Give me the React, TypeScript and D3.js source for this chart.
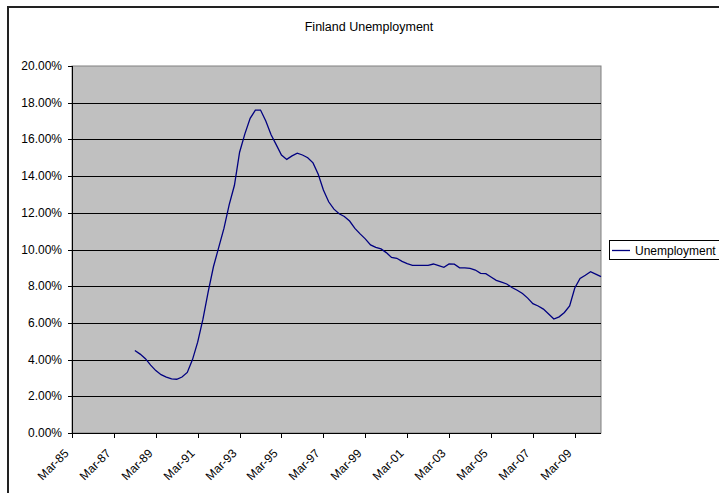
import React from "react";
import * as d3 from "d3";

// Quarterly unemployment rate (%), Mar-88 .. Jun-10
const firstQuarter = { year: 1988, month: 2 };
const unemployment = [
  4.5, 4.3, 4.05, 3.7,
  3.4, 3.18, 3.05, 2.95,
  2.93, 3.05, 3.3, 4.0,
  4.95, 6.2, 7.7, 9.06,
  10.1, 11.15, 12.45, 13.5,
  15.3, 16.3, 17.15, 17.6,
  17.6, 17.0, 16.25, 15.7,
  15.15, 14.91, 15.1, 15.25,
  15.15, 15.0, 14.72, 14.1,
  13.24, 12.6, 12.2, 11.95,
  11.8, 11.55, 11.15, 10.85,
  10.58, 10.25, 10.12, 10.03,
  9.83, 9.57, 9.52, 9.35,
  9.23, 9.14, 9.14, 9.14,
  9.14, 9.21, 9.12, 9.03,
  9.21, 9.2, 9.0, 9.0,
  8.97, 8.88, 8.7, 8.68,
  8.5, 8.32, 8.22, 8.12,
  7.93, 7.78, 7.6, 7.35,
  7.05, 6.92, 6.75, 6.48,
  6.21, 6.33, 6.57, 6.92,
  7.9, 8.42, 8.6, 8.79,
  8.66, 8.52,
];
const xTickYears = [1985, 1987, 1989, 1991, 1993, 1995, 1997, 1999, 2001, 2003, 2005, 2007, 2009];
const yTicks = [0, 0.02, 0.04, 0.06, 0.08, 0.1, 0.12, 0.14, 0.16, 0.18, 0.2];
const seriesName = "Unemployment";
const title = "Finland Unemployment";

const W = 719;
const H = 493;
const plot = { left: 72, right: 601, top: 66, bottom: 433 };

export default function App() {
  const points = unemployment.map((v, i) => ({
    date: new Date(firstQuarter.year, firstQuarter.month + 3 * i, 1),
    value: v / 100,
  }));
  const x = d3
    .scaleTime()
    .domain([new Date(1985, 2, 1), points[points.length - 1].date])
    .range([plot.left, plot.right]);
  const y = d3.scaleLinear().domain([0, 0.2]).range([plot.bottom, plot.top]);
  const line = d3
    .line<{ date: Date; value: number }>()
    .x((d) => x(d.date))
    .y((d) => y(d.value));
  const fmtY = d3.format(".2%");
  const fmtX = d3.timeFormat("%b-%y");
  const xTicks = xTickYears.map((yr) => new Date(yr, 2, 1));
  const font = "Liberation Sans, Arial, sans-serif";

  return (
    <svg
      width={W}
      height={H}
      style={{ position: "absolute", left: 0, top: 0, background: "#fff" }}
      fontFamily={font}
    >
      <rect x={0} y={0} width={W} height={H} fill="#fff" />
      <rect x={8} y={7} width={W + 20} height={H + 20} fill="#fff" stroke="#222" strokeWidth={2} />
      <text x={369} y={31} textAnchor="middle" fontSize={12.5} fill="#000">
        {title}
      </text>
      <rect
        x={plot.left}
        y={plot.top}
        width={plot.right - plot.left}
        height={plot.bottom - plot.top}
        fill="#c0c0c0"
        stroke="#808080"
        strokeWidth={1}
      />
      {yTicks.slice(1, -1).map((t) => (
        <line
          key={"g" + t}
          x1={plot.left}
          x2={plot.right}
          y1={Math.round(y(t)) + 0.5}
          y2={Math.round(y(t)) + 0.5}
          stroke="#000"
          strokeWidth={1}
        />
      ))}
      <line x1={plot.left + 0.5} x2={plot.left + 0.5} y1={plot.top} y2={plot.bottom} stroke="#000" />
      <line x1={plot.left} x2={plot.right} y1={plot.bottom + 0.5} y2={plot.bottom + 0.5} stroke="#000" />
      {yTicks.map((t) => (
        <g key={"y" + t}>
          <line
            x1={plot.left - 4}
            x2={plot.left}
            y1={Math.round(y(t)) + 0.5}
            y2={Math.round(y(t)) + 0.5}
            stroke="#000"
          />
          <text x={62} y={y(t) + 4} textAnchor="end" fontSize={12} fill="#000">
            {fmtY(t)}
          </text>
        </g>
      ))}
      {xTicks.map((d) => {
        const px = Math.round(x(d)) + 0.5;
        return (
          <g key={"x" + d.getFullYear()}>
            <line x1={px} x2={px} y1={plot.bottom} y2={plot.bottom + 5} stroke="#000" />
            <text
              transform={`translate(${px - 3},${plot.bottom + 21}) rotate(-45)`}
              textAnchor="end"
              fontSize={12}
              fill="#000"
            >
              {fmtX(d)}
            </text>
          </g>
        );
      })}
      <path d={line(points) || ""} fill="none" stroke="#000080" strokeWidth={1.3} />
      <rect x={609.5} y={240.5} width={140} height={19} fill="#fff" stroke="#000" strokeWidth={1} />
      <line x1={612} x2={630} y1={250.5} y2={250.5} stroke="#000080" strokeWidth={1.3} />
      <text x={635} y={254.5} fontSize={12} fill="#000">
        {seriesName}
      </text>
    </svg>
  );
}
